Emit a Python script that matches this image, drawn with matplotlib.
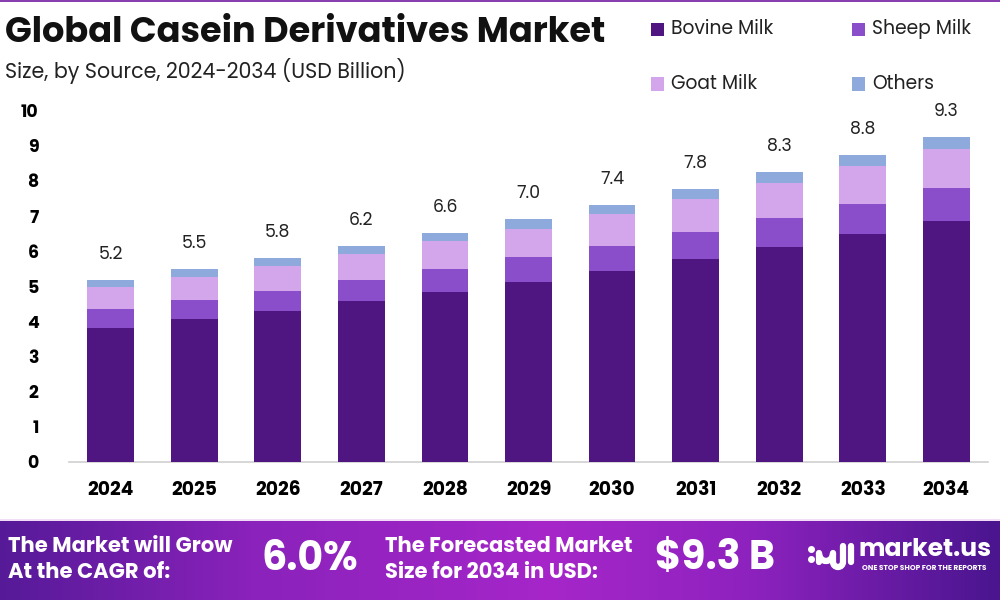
import numpy as np
import matplotlib
matplotlib.use("Agg")
import matplotlib.pyplot as plt
from matplotlib.colors import LinearSegmentedColormap
from matplotlib.patches import Rectangle, Arc

years = ["2024", "2025", "2026", "2027", "2028", "2029", "2030", "2031", "2032", "2033", "2034"]
bovine = [3.82, 4.07, 4.30, 4.57, 4.83, 5.13, 5.44, 5.78, 6.12, 6.48, 6.86]
sheep = [0.53, 0.55, 0.58, 0.61, 0.66, 0.70, 0.72, 0.77, 0.82, 0.87, 0.94]
goat = [0.63, 0.65, 0.71, 0.74, 0.80, 0.81, 0.90, 0.93, 0.99, 1.08, 1.12]
others = [0.19, 0.22, 0.21, 0.24, 0.24, 0.27, 0.26, 0.30, 0.32, 0.31, 0.33]
totals = [5.2, 5.5, 5.8, 6.2, 6.6, 7.0, 7.4, 7.8, 8.3, 8.8, 9.3]
series_names = ["Bovine Milk", "Sheep Milk", "Goat Milk", "Others"]
colors = ["#4f1580", "#8a4ecb", "#d3a5ea", "#8eaadc"]
yticks = [0, 1, 2, 3, 4, 5, 6, 7, 8, 9, 10]

BASE = ["Poppins", "Lato", "DejaVu Sans"]

fig = plt.figure(figsize=(10, 6), dpi=100)
fig.patch.set_facecolor("white")

# pixel overlay axes for decorations (behind everything)
ov = fig.add_axes([0, 0, 1, 1], zorder=-1)
ov.set_xlim(0, 1000)
ov.set_ylim(600, 0)
ov.axis("off")
ov.add_patch(Rectangle((0, 0), 1000, 1.5, color="#8a3fb0", lw=0))

# footer gradient
cmap = LinearSegmentedColormap.from_list(
    "foot", [(0, "#561a98"), (0.25, "#8a22bb"), (0.55, "#a626c9"), (0.75, "#8e22bf"), (1, "#4a158f")])
grad = np.linspace(0, 1, 512).reshape(1, -1)
ov.imshow(grad, aspect="auto", cmap=cmap, extent=[0, 1000, 600, 521], zorder=1)
ov.add_patch(Rectangle((0, 519), 1000, 2, color="#f3dcf7", lw=0, zorder=2))
ov.set_xlim(0, 1000)
ov.set_ylim(600, 0)

ax = fig.add_axes([0.069, (600 - 462) / 600, 0.919, (462 - 110.7) / 600])
x = np.arange(len(years))
bottom = np.zeros(len(years))
for vals, col, name in zip([bovine, sheep, goat, others], colors, series_names):
    ax.bar(x, vals, bottom=bottom, width=0.56, color=col, label=name, zorder=3)
    bottom += np.array(vals)

for xi, top, t in zip(x, bottom, totals):
    ax.annotate(f"{t:.1f}", (xi, top), xytext=(0, 18), textcoords="offset points",
                ha="center", va="center", fontsize=12.5, color="#222222",
                family=BASE, annotation_clip=False)

ax.set_xlim(-0.5, len(years) - 0.5)
ax.set_ylim(0, 10)
ax.set_yticks(yticks)
ax.set_yticklabels([str(v) for v in yticks], fontsize=12.5, fontweight="bold", family=BASE)
ax.set_xticks(x)
ax.set_xticklabels(years, fontsize=13.5, fontweight="bold", family=BASE)
ax.tick_params(axis="both", length=0)
ax.tick_params(axis="y", pad=22)
ax.tick_params(axis="x", pad=14)
for s in ["top", "right", "left"]:
    ax.spines[s].set_visible(False)
ax.spines["bottom"].set_color("#d0d0d0")
ax.spines["bottom"].set_linewidth(1.2)

# title & subtitle
fig.text(5 / 1000, 1 - 33 / 600, "Global Casein Derivatives Market", fontsize=25.3,
         fontweight="bold", family=BASE, ha="left", va="center", color="#111111")
fig.text(5 / 1000, 1 - 71 / 600, "Size, by Source, 2024-2034 (USD Billion)", fontsize=14.8,
         family=BASE, ha="left", va="center", color="#222222")

# legend
leg_pos = [(651, 29), (852, 29), (651, 84), (852, 84)]
for (lx, ly), col, name in zip(leg_pos, colors, series_names):
    fig.add_artist(Rectangle((lx / 1000, 1 - (ly + 6.5) / 600), 13 / 1000, 13 / 600,
                             transform=fig.transFigure, color=col, lw=0))
    fig.text((lx + 20) / 1000, 1 - ly / 600, name, fontsize=13.5, family=BASE,
             ha="left", va="center", color="#222222")

def ft(xp, yp, s, size, weight="bold", **kw):
    fig.text(xp / 1000, 1 - yp / 600, s, fontsize=size, color="white", fontweight=weight,
             ha="left", va="center", family=BASE, **kw)

ft(8, 547, "The Market will Grow", 15.2)
ft(8, 573, "At the CAGR of:", 15.2)
ft(262, 560, "6.0%", 28.5)
ft(385, 547, "The Forecasted Market", 15.2)
ft(385, 573, "Size for 2034 in USD:", 15.2)
ft(655, 560, "$9.3 B", 28.5)
ft(859, 551, "market.us", 18)
ft(862, 569, "ONE STOP SHOP FOR THE REPORTS", 5.3)

# logo glyph
lw = 4.5
ov.plot([811], [549], "o", color="white", ms=4, zorder=5)
ov.plot([811], [559], "o", color="white", ms=4, zorder=5)
ov.add_patch(Arc((826, 553), 14, 16, theta1=0, theta2=180, color="white", lw=lw, zorder=5))
ov.plot([819, 819], [553, 562], color="white", lw=lw, solid_capstyle="round", zorder=5)
ov.plot([833, 833], [553, 562], color="white", lw=lw, solid_capstyle="round", zorder=5)
ov.add_patch(Arc((838, 562), 10, 10, theta1=0, theta2=180, color="white", lw=lw, zorder=5))
ov.plot([843, 843], [546, 562], color="white", lw=lw, solid_capstyle="round", zorder=5)
ov.plot([851, 851], [546, 562], color="white", lw=lw, solid_capstyle="round", zorder=5)

fig.savefig("out.png", dpi=100)
